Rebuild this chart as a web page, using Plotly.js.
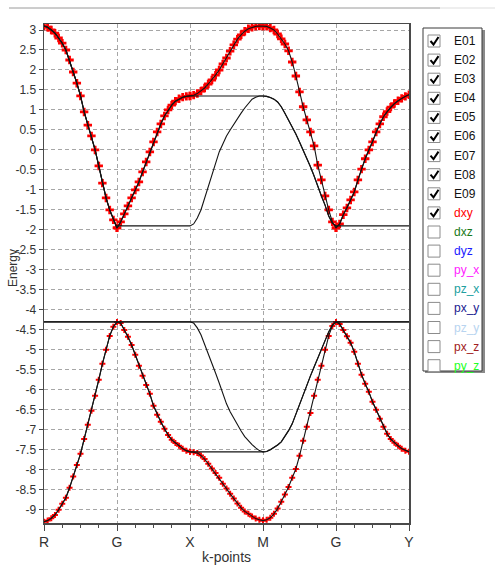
<!DOCTYPE html>
<html><head><meta charset="utf-8">
<script src="https://cdn.plot.ly/plotly-3.0.1.min.js"></script>
<style>html,body{margin:0;padding:0;background:#fff;}#chart{width:495px;height:571px;}</style>
</head><body><div id="chart"></div>
<script>
// ---- k-path ----
const kLabels = ['R','G','X','M','G','Y'];
const kTickPos = [0,1,2,3,4,5];
const yTickVals = [3,2.5,2,1.5,1,0.5,0,-0.5,-1,-1.5,-2,-2.5,-3,-3.5,-4,-4.5,-5,-5.5,-6,-6.5,-7,-7.5,-8,-8.5,-9];
const yTickText = ['3','2.5','2','1.5','1','0.5','0','-0.5','-1','-1.5','-2','-2.5','-3','-3.5','-4','-4.5','-5','-5.5','-6','-6.5','-7','-7.5','-8','-8.5','-9'];

// ---- upper bands (segment values) ----
const upA_RG = [3.1,3.07,3.0,2.92,2.8,2.67,2.5,2.25,1.95,1.67,1.35,0.95,0.62,0.35,0.0,-0.4,-0.83,-1.2,-1.5,-1.75,-1.95];
const upA_GX = [-1.95,-1.8,-1.6,-1.4,-1.2,-1.0,-0.8,-0.55,-0.3,-0.05,0.2,0.45,0.65,0.85,1.0,1.12,1.22,1.28,1.32,1.34,1.35];
const upA_XM = [1.35,1.37,1.41,1.47,1.55,1.65,1.75,1.87,2.0,2.15,2.3,2.47,2.63,2.77,2.88,2.97,3.03,3.07,3.09,3.1,3.1];
const upA_MG = [3.1,3.09,3.05,3.0,2.9,2.78,2.65,2.48,2.2,1.85,1.45,1.08,0.75,0.45,0.1,-0.38,-0.75,-1.15,-1.5,-1.8,-1.95];
const upA_GY = [-1.95,-1.85,-1.62,-1.45,-1.25,-1.05,-0.75,-0.48,-0.22,0.0,0.2,0.45,0.65,0.83,0.96,1.07,1.16,1.23,1.29,1.34,1.38];
const upB_XM = [-1.9,-1.85,-1.7,-1.5,-1.2,-0.9,-0.6,-0.3,-0.05,0.15,0.35,0.5,0.65,0.8,0.92,1.05,1.17,1.27,1.32,1.35,1.35];
const upB_MG = [1.35,1.34,1.31,1.27,1.2,1.08,0.92,0.75,0.6,0.4,0.2,0.0,-0.2,-0.42,-0.65,-0.92,-1.15,-1.38,-1.65,-1.83,-1.9];
const upFlatLow = [-1.9,-1.9];
const upFlatHigh = [1.35,1.35];

// ---- lower bands ----
const lowC_RG = [-9.3,-9.27,-9.21,-9.13,-9.0,-8.85,-8.7,-8.45,-8.17,-7.88,-7.6,-7.23,-6.87,-6.52,-6.15,-5.75,-5.35,-5.0,-4.65,-4.42,-4.3];
const lowC_GX = [-4.3,-4.33,-4.5,-4.67,-4.88,-5.12,-5.4,-5.65,-5.88,-6.1,-6.4,-6.62,-6.8,-6.97,-7.13,-7.25,-7.33,-7.4,-7.47,-7.52,-7.55];
const lowC_XM = [-7.55,-7.56,-7.58,-7.64,-7.73,-7.85,-7.97,-8.08,-8.2,-8.35,-8.47,-8.6,-8.72,-8.84,-8.95,-9.04,-9.1,-9.17,-9.22,-9.25,-9.27];
const lowC_MG = [-9.27,-9.25,-9.2,-9.1,-8.97,-8.8,-8.62,-8.43,-8.2,-7.98,-7.65,-7.27,-6.92,-6.58,-6.15,-5.75,-5.4,-5.0,-4.65,-4.4,-4.3];
const lowC_GY = [-4.3,-4.35,-4.5,-4.66,-4.82,-5.05,-5.35,-5.62,-5.85,-6.05,-6.3,-6.5,-6.72,-6.92,-7.1,-7.23,-7.32,-7.4,-7.47,-7.52,-7.55];
const lowD_XM = [-4.3,-4.33,-4.45,-4.62,-4.85,-5.1,-5.35,-5.58,-5.83,-6.1,-6.35,-6.55,-6.72,-6.87,-7.03,-7.17,-7.28,-7.37,-7.45,-7.52,-7.55];
const lowD_MG = [-7.55,-7.54,-7.5,-7.45,-7.38,-7.3,-7.17,-7.02,-6.85,-6.6,-6.35,-6.1,-5.85,-5.65,-5.43,-5.2,-5.0,-4.78,-4.55,-4.38,-4.3];
const lowFlatTop = [-4.3,-4.3];
const lowFlatBot = [-7.55,-7.55];

// ---- band composition along R-G-X-M-G-Y ----
const bandNames = ['E01','E02','E03','E04','E05','E06','E07'];
const bandSegments = [
  [lowC_RG, lowC_GX, lowC_XM, lowC_MG, lowC_GY],
  [lowC_RG, lowC_GX, lowFlatBot, lowD_MG, lowC_GY],
  [lowFlatTop, lowFlatTop, lowD_XM, lowD_MG, lowFlatTop],
  [lowFlatTop, lowFlatTop, lowFlatTop, lowFlatTop, lowFlatTop],
  [upA_RG, upFlatLow, upB_XM, upB_MG, upFlatLow],
  [upA_RG, upA_GX, upFlatHigh, upB_MG, upA_GY],
  [upA_RG, upA_GX, upA_XM, upA_MG, upA_GY]
];
// projected (dxy) bands shown with markers
const dxyBands = [0, 6];
const dxySizes = [5, 7];

// legend entries
const legendNames = ['E01','E02','E03','E04','E05','E06','E07','E08','E09','dxy','dxz','dyz','py_x','pz_x','px_y','pz_y','px_z','py_z'];
const legendColors = ['#111','#111','#111','#111','#111','#111','#111','#111','#111','#ff0000','#1a7a1a','#1a1aff','#ff22ff','#20a0a0','#202090','#b8d4f0','#a02020','#22ff22'];
const legendChecked = [1,1,1,1,1,1,1,1,1,1,0,0,0,0,0,0,0,0];

function toXY(segs){
  const x=[], y=[];
  segs.forEach((s,si)=>{
    const n=s.length;
    s.forEach((v,i)=>{ x.push(si + i/(n-1)); y.push(v); });
  });
  return {x,y};
}

const traces = [];
dxyBands.forEach((b,j)=>{
  const d = toXY(bandSegments[b]);
  traces.push({x:d.x, y:d.y, mode:'markers', type:'scatter', name:'dxy', showlegend:false,
    marker:{symbol:'cross', size:dxySizes[j], color:'#ff0000', line:{width:0}}, hoverinfo:'skip'});
});
bandSegments.forEach((segs,b)=>{
  const d = toXY(segs);
  traces.push({x:d.x, y:d.y, mode:'lines', type:'scatter', name:bandNames[b], showlegend:false,
    line:{color:'#141414', width:1.1}, hoverinfo:'skip'});
});

// pixel -> paper helpers (plot area 44..409 x 24..523)
const L=44, R=409, T=24, B=523;
const px = v => (v-L)/(R-L);
const py = v => (B-v)/(B-T);

const shapes = [];
const annotations = [];
// window top line
shapes.push({type:'line', xref:'paper', yref:'paper', x0:px(9), x1:px(440), y0:py(8), y1:py(8), line:{color:'#9a9a9a', width:1}});
shapes.push({type:'line', xref:'paper', yref:'paper', x0:px(440), x1:px(495), y0:py(8), y1:py(8), line:{color:'#dddddd', width:1}});
// legend box with shadow
shapes.push({type:'rect', xref:'paper', yref:'paper', x0:px(425), x1:px(485), y0:py(373), y1:py(30), fillcolor:'#8a8a8a', line:{width:0}});
shapes.push({type:'rect', xref:'paper', yref:'paper', x0:px(423), x1:px(482), y0:py(371), y1:py(28), fillcolor:'#ffffff', line:{color:'#3a3a3a', width:1}});
legendNames.forEach((nm,i)=>{
  const cy = 41 + i*19.1;
  shapes.push({type:'rect', xref:'paper', yref:'paper', x0:px(428), x1:px(440), y0:py(cy+6), y1:py(cy-6), fillcolor:'#ffffff', line:{color:'#8c8c8c', width:1}});
  if(legendChecked[i]){
    shapes.push({type:'path', xref:'paper', yref:'paper',
      path:`M ${px(430.5)} ${py(cy)} L ${px(433.5)} ${py(cy+3.5)} L ${px(438.5)} ${py(cy-4)}`,
      line:{color:'#000', width:2}});
  }
  annotations.push({xref:'paper', yref:'paper', x:px(452), y:py(cy), xanchor:'left', yanchor:'middle', showarrow:false,
    text:nm, font:{family:'Liberation Sans, Arial, sans-serif', size:12, color:legendColors[i]}});
});
// axis titles
annotations.push({xref:'paper', yref:'paper', x:px(13), y:py(268), xanchor:'center', yanchor:'middle', showarrow:false,
  text:'Energy', textangle:-90, font:{family:'Liberation Sans, Arial, sans-serif', size:12, color:'#333'}});
annotations.push({xref:'paper', yref:'paper', x:px(226), y:py(557), xanchor:'center', yanchor:'middle', showarrow:false,
  text:'k-points', font:{family:'Liberation Sans, Arial, sans-serif', size:14, color:'#333'}});

const layout = {
  width:495, height:571,
  margin:{l:L, r:495-R, t:T, b:571-B, pad:0},
  paper_bgcolor:'#ffffff', plot_bgcolor:'#ffffff',
  showlegend:false,
  xaxis:{range:[0,5], tickmode:'array', tickvals:kTickPos, ticktext:kLabels,
    showgrid:true, gridcolor:'#a6a6a6', gridwidth:1, griddash:'4px,3px',
    zeroline:false, showline:true, mirror:true, linecolor:'#4a4a4a', linewidth:1.5,
    ticks:'outside', ticklen:6, tickcolor:'#4a4a4a', tickwidth:1,
    minor:{tickmode:'linear', tick0:0, dtick:0.25, ticks:'outside', ticklen:3, tickcolor:'#4a4a4a', showgrid:false},
    tickfont:{family:'Liberation Sans, Arial, sans-serif', size:14, color:'#333'}, fixedrange:true},
  yaxis:{range:[-9.33,3.15], tickmode:'array', tickvals:yTickVals, ticktext:yTickText,
    showgrid:true, gridcolor:'#a6a6a6', gridwidth:1, griddash:'4px,3px',
    zeroline:false, showline:true, mirror:true, linecolor:'#4a4a4a', linewidth:1.5,
    ticks:'outside', ticklen:4, tickcolor:'#4a4a4a', tickwidth:1,
    tickfont:{family:'Liberation Sans, Arial, sans-serif', size:12, color:'#333'}, fixedrange:true},
  shapes:shapes, annotations:annotations
};
Plotly.newPlot('chart', traces, layout, {staticPlot:true, displayModeBar:false});
</script>
</body></html>
